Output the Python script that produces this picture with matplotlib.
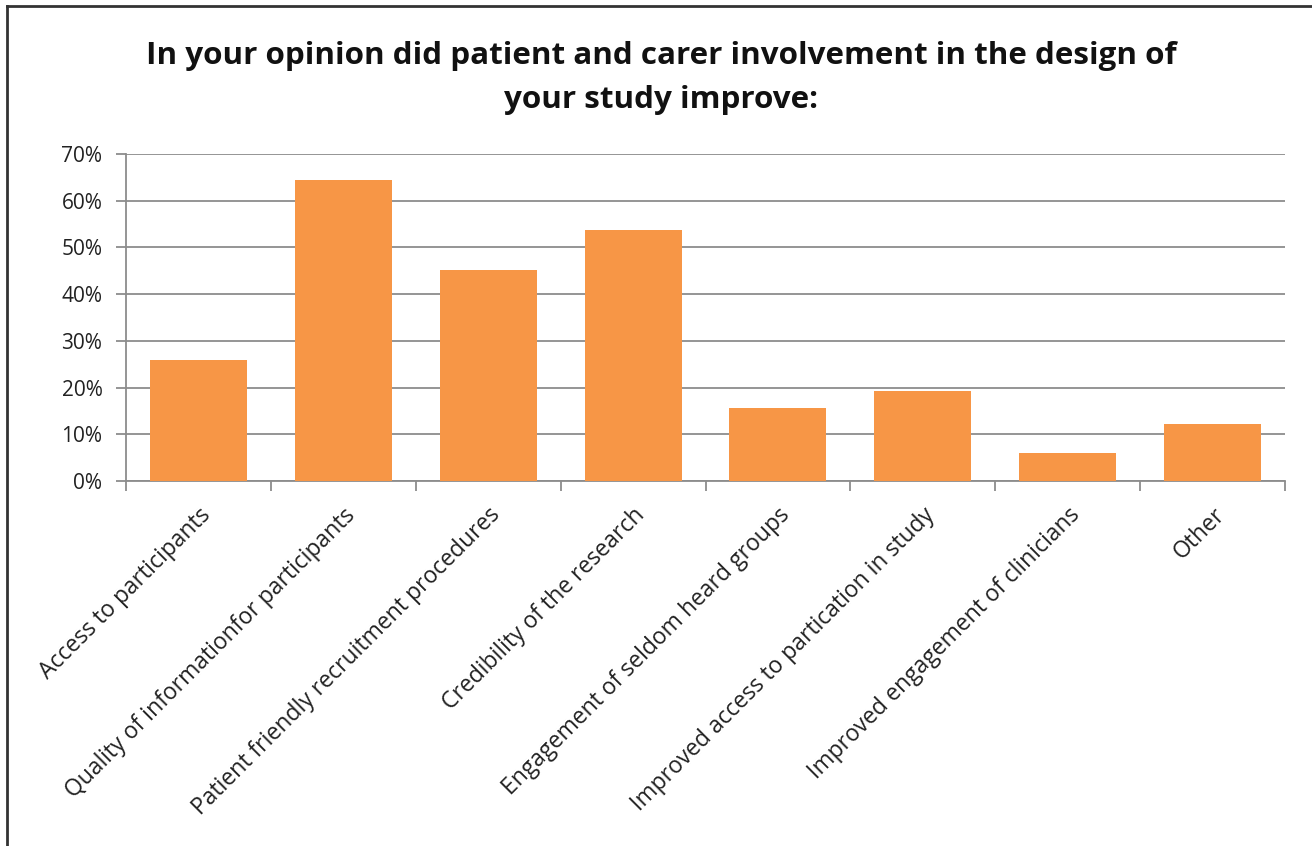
import matplotlib.pyplot as plt
from matplotlib.lines import Line2D
import numpy as np

plt.rcParams['font.family'] = ['Open Sans', 'DejaVu Sans']

categories = ['Access to participants',
              'Quality of informationfor participants',
              'Patient friendly recruitment procedures',
              'Credibility of the research',
              'Engagement of seldom heard groups',
              'Improved access to partication in study',
              'Improved engagement of clinicians',
              'Other']
values = [25.8, 64.5, 45.2, 53.7, 15.7, 19.3, 5.9, 12.3]
yticks = [0, 10, 20, 30, 40, 50, 60, 70]

fig = plt.figure(figsize=(13.12, 8.46), dpi=100)
ax = fig.add_axes([126/1312, 1-481/846, (1285-126)/1312, (481-154)/846])

x = np.arange(len(categories))
ax.bar(x, values, width=0.67, color='#f79646', zorder=3)

ax.set_xlim(-0.5, len(categories)-0.5)
ax.set_ylim(0, 70)
ax.set_yticks(yticks)
ax.set_yticklabels([f'{t}%' for t in yticks], fontsize=15, color='#222222')
ax.grid(axis='y', color='#8c8c8c', linewidth=1.3, zorder=0)

ax.set_xticks(np.arange(len(categories)+1)-0.5)
ax.set_xticklabels([])
ax.set_xticks(x, minor=True)
ax.set_xticklabels(categories, minor=True, rotation=45, ha='right', va='top',
                   rotation_mode='anchor', fontsize=16.5, color='#222222')
ax.tick_params(axis='x', which='minor', length=0, pad=16)
ax.tick_params(axis='x', which='major', length=7, width=1.3, color='#8c8c8c')
ax.tick_params(axis='y', length=7, width=1.3, color='#8c8c8c', pad=10)

for s in ['top', 'right']:
    ax.spines[s].set_visible(False)
for s in ['left', 'bottom']:
    ax.spines[s].set_color('#8c8c8c')
    ax.spines[s].set_linewidth(1.3)

fig.text(661/1312, 1-78/846,
         'In your opinion did patient and carer involvement in the design of\nyour study improve:',
         ha='center', va='center', fontsize=22.6, fontweight='bold',
         linespacing=1.6, color='#111111')

# chart frame (only top and left edges are visible in the picture)
fig.add_artist(Line2D([7/1312, 7/1312], [0, 1-6/846], color='#333333', lw=2,
                      transform=fig.transFigure))
fig.add_artist(Line2D([7/1312, 1], [1-6/846, 1-6/846], color='#333333', lw=2,
                      transform=fig.transFigure))

fig.savefig('out.png', dpi=100)
